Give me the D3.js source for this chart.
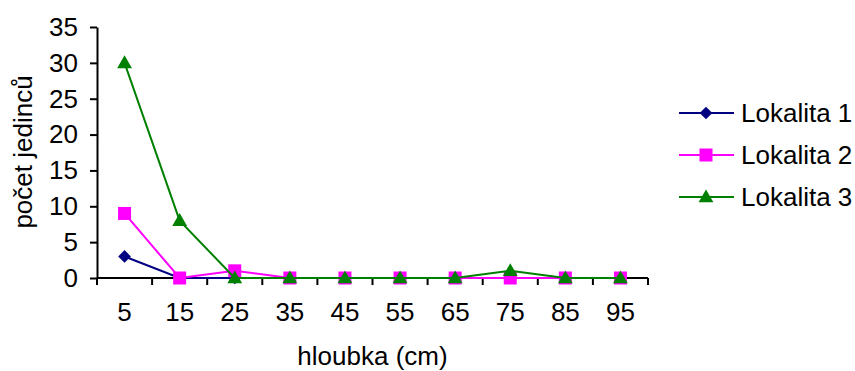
<!DOCTYPE html>
<html>
<head>
<meta charset="utf-8">
<script src="https://cdn.jsdelivr.net/npm/d3@7"></script>
<style>
  body { margin: 0; background: #fff; }
  text { font-family: Arial, "Liberation Sans", sans-serif; fill: #000; }
</style>
</head>
<body>
<script>
// depth categories (cm)
var depths = ["5", "15", "25", "35", "45", "55", "65", "75", "85", "95"];
var lokalita1 = [3, 0, 0, 0, 0, 0, 0, 0, 0, 0];
var lokalita2 = [9, 0, 1, 0, 0, 0, 0, 0, 0, 0];
var lokalita3 = [30, 8, 0, 0, 0, 0, 0, 1, 0, 0];
var seriesNames = ["Lokalita 1", "Lokalita 2", "Lokalita 3"];
var yTicks = [0, 5, 10, 15, 20, 25, 30, 35];

var width = 855, height = 371;
var fontSize = 26;

var series = [
  {name: seriesNames[0], values: lokalita1, color: "#000080", shape: "diamond"},
  {name: seriesNames[1], values: lokalita2, color: "#ff00ff", shape: "square"},
  {name: seriesNames[2], values: lokalita3, color: "#008000", shape: "triangle"}
];

var svg = d3.select("body").append("svg")
    .attr("width", width)
    .attr("height", height);

var x = d3.scaleBand()
    .domain(depths)
    .range([97, 648]);

var y = d3.scaleLinear()
    .domain([0, 35])
    .range([278, 27]);

// marker generator
function marker(g, shape, color) {
  if (shape == "diamond") {
    g.append("path")
      .attr("d", d3.symbol(d3.symbolSquare, 81)())
      .attr("transform", "rotate(45)")
      .attr("fill", color);
  } else if (shape == "square") {
    g.append("path")
      .attr("d", d3.symbol(d3.symbolSquare, 169)())
      .attr("fill", color);
  } else {
    g.append("path")
      .attr("d", d3.symbol(d3.symbolTriangle, 95)())
      .attr("transform", "translate(0,1)")
      .attr("fill", color);
  }
}

// y axis
var yAxis = svg.append("g")
    .attr("transform", "translate(97,0)")
    .call(d3.axisLeft(y).tickValues(yTicks).tickSize(7).tickPadding(12).tickSizeOuter(0));
yAxis.select(".domain").attr("stroke", "#000").attr("stroke-width", 2);
yAxis.selectAll(".tick line").attr("stroke", "#000").attr("stroke-width", 2);
yAxis.selectAll(".tick text")
    .style("font-size", fontSize + "px")
    .attr("font-family", null);

// x axis (labels centred in categories, ticks between categories)
var xAxis = svg.append("g")
    .attr("transform", "translate(0,278)")
    .call(d3.axisBottom(x).tickSize(0).tickPadding(25));
xAxis.select(".domain").remove();
xAxis.selectAll(".tick text")
    .style("font-size", fontSize + "px")
    .attr("font-family", null);

svg.append("line")
    .attr("x1", x.range()[0]).attr("x2", x.range()[1])
    .attr("y1", y(0)).attr("y2", y(0))
    .attr("stroke", "#000").attr("stroke-width", 2);

var boundaries = depths.map(function(d) { return x(d); }).concat([x.range()[1]]);
svg.selectAll(".xtick")
    .data(boundaries)
    .enter()
    .append("line")
    .attr("class", "xtick")
    .attr("x1", function(d) { return d; })
    .attr("x2", function(d) { return d; })
    .attr("y1", y(0))
    .attr("y2", y(0) + 7)
    .attr("stroke", "#000").attr("stroke-width", 2);

// axis titles
svg.append("text")
    .attr("x", (x.range()[0] + x.range()[1]) / 2)
    .attr("y", 365)
    .attr("text-anchor", "middle")
    .style("font-size", fontSize + "px")
    .text("hloubka (cm)");

svg.append("text")
    .attr("transform", "translate(32,152) rotate(-90)")
    .attr("text-anchor", "middle")
    .style("font-size", fontSize + "px")
    .text("počet jedinců");

// series
var line = d3.line()
    .x(function(d, i) { return x(depths[i]) + x.bandwidth() / 2; })
    .y(function(d) { return y(d); });

series.forEach(function(s) {
  svg.append("path")
    .attr("d", line(s.values))
    .attr("fill", "none")
    .attr("stroke", s.color)
    .attr("stroke-width", 2);
  s.values.forEach(function(v, i) {
    var g = svg.append("g")
      .attr("transform", "translate(" + (x(depths[i]) + x.bandwidth() / 2) + "," + y(v) + ")");
    marker(g, s.shape, s.color);
  });
});

// legend
var legend = svg.selectAll(".legend")
    .data(series)
    .enter()
    .append("g")
    .attr("class", "legend")
    .attr("transform", function(d, i) { return "translate(679," + (113 + i * 42) + ")"; });

legend.append("line")
    .attr("x1", 0).attr("x2", 55)
    .attr("stroke", function(d) { return d.color; })
    .attr("stroke-width", 2);

legend.each(function(d) {
  var g = d3.select(this).append("g").attr("transform", "translate(27,0)");
  marker(g, d.shape, d.color);
});

legend.append("text")
    .attr("x", 62)
    .attr("y", 9)
    .style("font-size", fontSize + "px")
    .text(function(d) { return d.name; });
</script>
</body>
</html>
